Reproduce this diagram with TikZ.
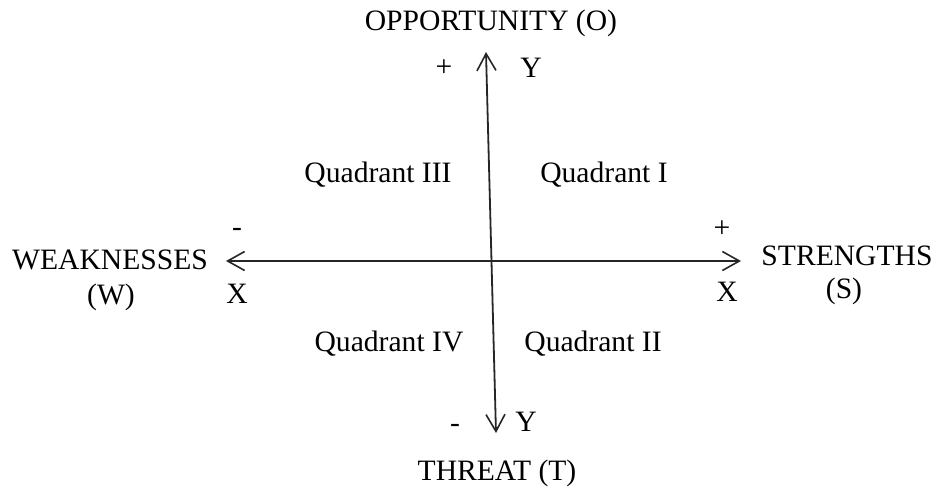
\documentclass[tikz,border=0pt]{standalone}
\usepackage{fontspec}
\setmainfont{Liberation Serif}
\usetikzlibrary{arrows.meta}
\tikzset{
  lbl/.style={inner sep=0pt, anchor=base, font=\fontsize{29.6}{32}\selectfont},
  sgn/.style={inner sep=0pt, anchor=center, font=\fontsize{29.6}{32}\selectfont},
  axis/.style={line width=1.8pt, draw=black!85,
    {Straight Barb[length=17pt,width=19pt,line width=1.6pt]}-{Straight Barb[length=17pt,width=19pt,line width=1.6pt]}}
}
\begin{document}
\begin{tikzpicture}[x=1pt,y=-1pt]
\useasboundingbox (0,0) rectangle (935,488);
% axis end points
\coordinate (top) at (486,52);
\coordinate (bot) at (496,433);
\coordinate (lft) at (226,261);
\coordinate (rgt) at (741,261);
\draw[axis] (top) -- (bot);
\draw[axis] (lft) -- (rgt);
% labels
\node[lbl] (opp) at (491,30) {OPPORTUNITY (O)};
\node[sgn] (plustop) at (444,68) {+};
\node[lbl] (ytop) at (531,77) {Y};
\node[lbl] (q3) at (378,182) {Quadrant III};
\node[lbl] (q1) at (604,182) {Quadrant I};
\node[sgn] (minl) at (237,232) {-};
\node[sgn] (plusr) at (722,229) {+};
\node[lbl] (weak) at (110,269) {WEAKNESSES};
\node[lbl] (w) at (111,304) {(W)};
\node[lbl] (xl) at (237,303) {X};
\node[lbl] (str) at (847,265) {STRENGTHS};
\node[lbl] (s) at (844,298) {(S)};
\node[lbl] (xr) at (727,301) {X};
\node[lbl] (q4) at (389,351) {Quadrant IV};
\node[lbl] (q2) at (593,351) {Quadrant II};
\node[sgn] (minb) at (455,428) {-};
\node[lbl] (ybot) at (526,431) {Y};
\node[lbl] (thr) at (497,480) {THREAT (T)};
\end{tikzpicture}
\end{document}
